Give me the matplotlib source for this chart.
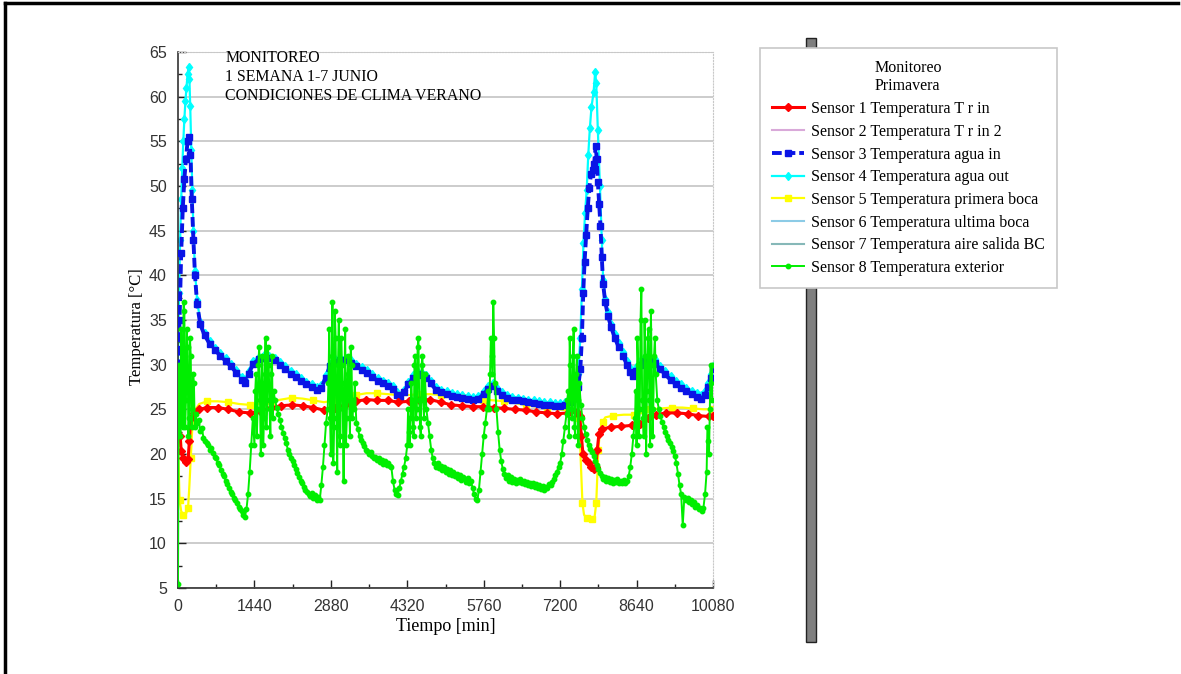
import numpy as np
import matplotlib
matplotlib.use("Agg")
import matplotlib.pyplot as plt
from matplotlib.lines import Line2D
from matplotlib.patches import Rectangle
from matplotlib.ticker import MultipleLocator

# Sensor 1 Temperatura T r in
red_t = [0, 40, 60, 100, 150, 190, 215, 240, 300, 400, 550, 750, 950, 1150, 1350, 1550,
         1750, 1950, 2150, 2350, 2550, 2750, 2950, 3150, 3350, 3550, 3750, 3950, 4150,
         4350, 4550, 4750, 4950, 5150, 5350, 5550, 5750, 5950, 6150, 6350, 6550, 6750,
         6950, 7150, 7350, 7520, 7570, 7600, 7630, 7680, 7740, 7790, 7840, 7870, 7900,
         7930, 7990, 8150, 8350, 8550, 8700, 8850, 9000, 9200, 9400, 9600, 9800, 10000, 10080]
red_v = [24.2, 22.0, 20.3, 19.6, 19.1, 19.4, 21.5, 24.0, 24.6, 25.0, 25.2, 25.2, 25.0, 24.7,
         24.6, 24.8, 25.2, 25.4, 25.5, 25.4, 25.2, 24.9, 25.1, 25.5, 25.9, 26.1, 26.0, 26.0,
         25.8, 25.9, 26.0, 26.1, 25.8, 25.5, 25.4, 25.3, 25.3, 25.2, 25.1, 25.0, 24.9, 24.7,
         24.6, 24.5, 24.6, 24.7, 24.2, 22.0, 20.0, 19.3, 19.0, 18.6, 18.3, 18.6, 20.5, 22.2,
         22.8, 23.0, 23.1, 23.2, 23.4, 24.0, 24.4, 24.6, 24.6, 24.5, 24.3, 24.2, 24.2]

# Sensor 3 Temperatura agua in
blue_t = [0, 30, 60, 90, 120, 150, 180, 210, 235, 260, 290, 320, 360, 420, 500, 600, 700,
          800, 900, 1000, 1100, 1200, 1260, 1330, 1420, 1520, 1620, 1720, 1820, 1920, 2020,
          2120, 2220, 2320, 2420, 2520, 2620, 2700, 2780, 2860, 2960, 3060, 3160, 3260, 3360,
          3460, 3560, 3660, 3760, 3860, 3960, 4060, 4130, 4190, 4260, 4340, 4430, 4520, 4600,
          4680, 4760, 4860, 4960, 5060, 5160, 5260, 5360, 5460, 5560, 5660, 5760, 5850, 5930,
          6010, 6100, 6200, 6300, 6400, 6500, 6600, 6700, 6800, 6900, 7000, 7100, 7200, 7300,
          7400, 7480, 7540, 7580, 7610, 7635, 7660, 7690, 7720, 7750, 7780, 7810, 7840, 7870,
          7890, 7910, 7935, 7960, 7985, 8010, 8050, 8100, 8160, 8230, 8300, 8380, 8460, 8520,
          8570, 8630, 8700, 8780, 8880, 8980, 9080, 9180, 9280, 9380, 9480, 9580, 9680, 9780,
          9860, 9930, 9990, 10040, 10080]
blue_v = [29.5, 35.0, 42.5, 47.5, 50.8, 53.0, 55.0, 55.5, 53.5, 48.5, 44.0, 40.0, 36.8, 34.5,
          33.3, 32.3, 31.6, 31.0, 30.4, 29.8, 29.1, 28.3, 28.0, 29.0, 30.1, 30.6, 30.8, 30.7,
          30.5, 30.0, 29.5, 29.0, 28.6, 28.2, 27.8, 27.5, 27.2, 27.4, 28.5, 29.8, 30.3, 30.5,
          30.5, 30.2, 29.8, 29.4, 29.1, 28.6, 28.2, 27.9, 27.6, 27.3, 26.6, 26.3, 26.9, 27.8,
          28.5, 28.9, 28.8, 28.5, 27.9, 27.2, 26.9, 26.7, 26.5, 26.4, 26.3, 26.2, 26.1, 26.2,
          26.7, 27.3, 27.6, 27.1, 26.6, 26.3, 26.1, 26.0, 25.9, 25.8, 25.7, 25.6, 25.5, 25.5,
          25.4, 25.4, 25.5, 25.8, 26.5, 27.5, 29.5, 33.0, 38.0, 41.5, 44.5, 47.5, 49.8, 51.3,
          51.8, 52.5, 54.5, 53.0, 50.5, 48.0, 45.5, 42.0, 39.0, 37.0, 35.5, 34.2, 33.0, 32.0,
          31.0, 30.0, 29.2, 28.7, 29.3, 30.0, 30.4, 30.5, 30.2, 29.5, 28.9, 28.3, 27.8, 27.4,
          27.0, 26.7, 26.4, 26.2, 26.6, 27.5, 28.5, 29.5]

# Sensor 4 Temperatura agua out
cyan_t = [0, 20, 40, 60, 80, 100, 120, 140, 160, 180, 200, 215, 230, 250, 270, 290, 320, 360,
          420, 500, 600, 700, 800, 900, 1000, 1100, 1200, 1260, 1330, 1420, 1520, 1620, 1720,
          1820, 1920, 2020, 2120, 2220, 2320, 2420, 2520, 2620, 2700, 2780, 2860, 2960, 3060,
          3160, 3260, 3360, 3460, 3560, 3660, 3760, 3860, 3960, 4060, 4130, 4190, 4260, 4340,
          4430, 4520, 4600, 4680, 4760, 4860, 4960, 5060, 5160, 5260, 5360, 5460, 5560, 5660,
          5760, 5850, 5930, 6010, 6100, 6200, 6300, 6400, 6500, 6600, 6700, 6800, 6900, 7000,
          7100, 7200, 7300, 7400, 7480, 7540, 7580, 7610, 7640, 7670, 7700, 7730, 7760, 7790,
          7830, 7860, 7880, 7910, 7950, 7985, 8010, 8050, 8100, 8160, 8230, 8300, 8380, 8460,
          8520, 8570, 8630, 8700, 8780, 8880, 8980, 9080, 9180, 9280, 9380, 9480, 9580, 9680,
          9780, 9860, 9930, 9990, 10040, 10080]
cyan_v = [30.0, 38.0, 44.0, 48.5, 52.0, 55.0, 57.5, 59.5, 61.0, 62.5, 63.3, 62.0, 59.0, 54.0,
          49.5, 45.0, 40.5, 37.2, 34.8, 33.6, 32.6, 31.9, 31.3, 30.7, 30.1, 29.4, 28.6, 28.3,
          29.3, 30.4, 30.9, 31.1, 31.0, 30.8, 30.3, 29.8, 29.3, 28.9, 28.5, 28.1, 27.8, 27.5,
          27.7, 28.8, 30.1, 30.6, 30.8, 30.8, 30.5, 30.1, 29.7, 29.4, 28.9, 28.5, 28.2, 27.9,
          27.6, 26.9, 26.6, 27.2, 28.1, 28.8, 29.2, 29.1, 28.8, 28.2, 27.5, 27.2, 27.0, 26.8,
          26.7, 26.6, 26.5, 26.4, 26.5, 27.0, 27.6, 27.9, 27.4, 26.9, 26.6, 26.4, 26.3, 26.2,
          26.1, 26.0, 25.9, 25.8, 25.8, 25.7, 25.7, 25.8, 26.1, 27.0, 29.0, 33.0, 38.5, 43.6,
          47.0, 49.5, 53.5, 56.5, 58.8, 60.5, 62.8, 61.5, 56.3, 50.0, 44.0, 39.5, 37.4, 35.9,
          34.6, 33.4, 32.4, 31.4, 30.4, 29.6, 29.1, 29.7, 30.4, 30.8, 30.9, 30.6, 29.9, 29.3,
          28.7, 28.2, 27.8, 27.4, 27.1, 26.8, 26.6, 27.0, 27.9, 28.9, 29.9]

# Sensor 5 Temperatura primera boca
yellow_t = [0, 15, 30, 60, 100, 150, 190, 215, 240, 270, 310, 400, 550, 750, 950, 1150, 1350,
            1550, 1750, 1950, 2150, 2350, 2550, 2750, 2950, 3150, 3350, 3550, 3750, 3950,
            4150, 4350, 4550, 4750, 4950, 5150, 5350, 5550, 5750, 5950, 6150, 6350, 6550,
            6750, 6950, 7150, 7350, 7520, 7560, 7590, 7620, 7650, 7700, 7750, 7800, 7850,
            7880, 7900, 7920, 7950, 8000, 8050, 8200, 8400, 8600, 8750, 8900, 9100, 9300,
            9500, 9700, 9900, 10080]
yellow_v = [21.2, 18.0, 14.8, 13.6, 13.2, 13.3, 14.0, 16.5, 19.5, 23.0, 24.8, 25.6, 25.9,
            25.9, 25.8, 25.6, 25.5, 25.6, 25.9, 26.1, 26.3, 26.2, 26.0, 25.8, 26.0, 26.3,
            26.6, 26.8, 26.8, 26.7, 26.6, 26.6, 26.7, 26.7, 26.6, 26.4, 26.3, 26.2, 26.1,
            26.0, 25.9, 25.7, 25.5, 25.3, 25.2, 25.0, 24.9, 24.8, 24.0, 19.0, 14.5, 13.2,
            12.8, 12.6, 12.7, 13.0, 14.5, 17.5, 20.5, 22.6, 23.6, 24.1, 24.3, 24.4, 24.4,
            24.6, 25.0, 25.1, 25.2, 25.2, 25.1, 25.0, 25.0]

# Sensor 8 Temperatura exterior, one reading every 30 min
green_t = np.arange(0, 10081, 30)
green_v = [
    5.5, 27, 34, 23, 36, 26, 32, 24, 31, 25, 28, 24.5,
    23.5, 23.8, 22.6, 22.9, 21.8, 21.5, 21.2, 21.0, 20.4, 20.7, 20.1, 19.7,
    19.5, 19.0, 18.8, 18.2, 17.8, 17.5, 17.0, 16.6, 16.2, 15.8, 15.5, 15.1,
    14.8, 14.5, 14.1, 13.8, 13.6, 13.2, 13.0, 13.8, 15.5, 18.0, 21.0, 24.0,
    21, 29, 25, 32, 20, 31, 24, 33, 26, 30, 22, 31,
    27, 26, 25.2, 24.5, 23.8, 23, 22.4, 21.8, 21.2, 20.5, 20.0, 19.5,
    19.2, 18.8, 18.3, 17.9, 17.4, 17.0, 16.7, 16.3, 16.0, 15.8, 15.5, 15.3,
    15.6, 15.1, 15.4, 14.9, 15.2, 14.8, 16.5, 18.5, 21, 23.5, 25, 34,
    20, 37, 23, 33, 18, 35, 22, 30, 17, 34, 24, 31,
    22, 30, 26, 28, 23.5, 22.8, 22, 21.6, 21.2, 20.9, 20.5, 20.3,
    20.0, 20.2, 19.8, 19.5, 19.7, 19.3, 19.5, 19.1, 19.3, 18.9, 19.2, 18.8,
    19.0, 18.7, 18.5, 17.0, 16.0, 15.5, 15.4, 16.2, 17.0, 17.8, 18.6, 19.5,
    21, 22.5, 24, 26, 22, 31, 25, 33, 23, 30, 26, 29,
    25, 23.5, 22, 20.5, 19.5, 19.0, 18.6, 19.0, 18.4, 18.7, 18.2, 18.5,
    18.0, 18.3, 17.8, 18.2, 17.7, 18.0, 17.5, 17.8, 17.3, 17.6, 17.1, 17.4,
    17.2, 16.9, 17.3, 16.8, 17.0, 16.2, 15.5, 15.0, 14.8, 16.0, 18.0, 20.0,
    22, 23.5, 25, 27, 29, 31, 37, 28, 25, 22.5, 20.5, 19.2,
    18.3, 17.8, 17.3, 17.6, 17.0, 17.4, 16.9, 17.2, 16.8, 17.1, 16.9, 17.2,
    16.8, 17.0, 16.6, 16.9, 16.5, 16.8, 16.4, 16.7, 16.3, 16.6, 16.2, 16.5,
    16.1, 16.4, 16.0, 16.3, 16.2, 16.6, 16.5, 16.9, 17.2, 17.6, 18.0, 18.6,
    19.0, 20.0, 21.5, 23.0, 24.5, 27, 33, 25, 31, 23, 29, 26,
    28, 25.5, 24, 23, 22.2, 21.6, 21, 20.6, 20.2, 19.8, 19.2, 18.8,
    18.3, 17.9, 17.5, 17.2, 17.4, 17.0, 17.3, 16.9, 17.2, 16.8, 17.1, 16.9,
    17.2, 16.8, 17.0, 16.7, 17.1, 16.8, 17.0, 17.5, 18.5, 20, 22, 24,
    21, 30, 25, 38.5, 24, 35, 20, 33, 26, 36, 22, 31,
    29, 26, 25, 24.2, 23.6, 23, 22.5, 22, 21.6, 21.2, 20.8, 20.3,
    19.8, 19, 17.8, 16.5, 15.5, 12.0, 15.2, 14.8, 15.1, 14.6, 14.9, 14.4,
    14.6, 14.1, 14.3, 13.8, 14.0, 13.6, 14.0, 15.5, 18, 21.5, 25, 28,
    30,
]
# extra exterior readings in between, during the noisy daytime windows
green_extra_t = [15, 45, 75, 105, 135, 165, 195, 225, 255, 285, 315,
                 1455, 1485, 1515, 1545, 1575, 1605, 1635, 1665, 1695, 1725, 1755, 1785,
                 2835, 2865, 2895, 2925, 2955, 2985, 3015, 3045, 3075, 3105, 3135, 3165,
                 3195, 3225, 3255, 3285, 3315,
                 4335, 4365, 4395, 4425, 4455, 4485, 4515, 4545, 4575, 4605, 4635,
                 5865, 5895, 5925, 5955,
                 7335, 7365, 7395, 7425, 7455, 7485, 7515, 7545,
                 8625, 8655, 8685, 8715, 8745, 8775, 8805, 8835, 8865, 8895, 8925, 8955, 8985,
                 9975, 10005, 10035, 10065]
green_extra_v = [30, 22, 29, 37, 23, 34, 22, 33, 23, 29, 23,
                 27, 22, 30, 26, 28, 21, 29, 23, 32, 25, 29, 24,
                 28, 24, 31, 19, 36, 24, 30, 21, 33, 25, 28, 21,
                 29, 26, 32, 24, 25,
                 25, 21, 28, 23, 30, 24, 32, 26, 22, 31, 24,
                 25, 33, 29, 33,
                 26, 22, 30, 24, 34, 22, 31, 21,
                 27, 33, 22, 35, 26, 22, 31, 27, 34, 21, 30, 25, 33,
                 23, 20, 30, 26]

legend_title = "Monitoreo\nPrimavera"
labels = ["Sensor 1 Temperatura T r in", "Sensor 2 Temperatura T r in 2",
          "Sensor 3 Temperatura agua in", "Sensor 4 Temperatura agua out",
          "Sensor 5 Temperatura primera boca", "Sensor 6 Temperatura ultima boca",
          "Sensor 7 Temperatura aire salida BC", "Sensor 8 Temperatura exterior"]
note = "MONITOREO\n1 SEMANA 1-7 JUNIO\nCONDICIONES DE CLIMA VERANO"

serif = ["Liberation Serif", "DejaVu Serif"]
sans = ["Liberation Sans", "DejaVu Sans"]

# merge the two sets of exterior readings in time order
gt = np.concatenate([green_t, green_extra_t])
gv = np.concatenate([green_v, green_extra_v])
order = np.argsort(gt, kind="stable")
gt, gv = gt[order], gv[order]

fig = plt.figure(figsize=(11.81, 6.74), dpi=100)
ax = fig.add_axes([178 / 1181, 1 - 588 / 674, 535 / 1181, 536 / 674])

# gray bar behind the legend
fig.add_artist(Rectangle((806 / 1181, 1 - 642 / 674), 10 / 1181, 604 / 674,
                         transform=fig.transFigure, facecolor="#7f7f7f",
                         edgecolor="#222222", lw=1, zorder=0))
# black border of the original frame
fig.add_artist(Line2D([5 / 1181, 1178 / 1181], [1 - 3 / 674, 1 - 3 / 674],
                      transform=fig.transFigure, color="black", lw=2.5))
fig.add_artist(Line2D([5 / 1181, 5 / 1181], [0, 1 - 3 / 674],
                      transform=fig.transFigure, color="black", lw=2.5))

h1, = ax.plot(red_t, red_v, color="#ff0000", lw=2.2, marker="D", ms=4.2, zorder=4)
h2, = ax.plot([], [], color="#d9a9d9", lw=1.5)
hc, = ax.plot(cyan_t, cyan_v, color="#00ffff", lw=1.6, marker="d", ms=4.5, zorder=2)
hb, = ax.plot(blue_t, blue_v, color="#0a14e6", lw=2.8, ls=(0, (2.5, 1)), marker="s",
              ms=5, zorder=3)
hy, = ax.plot(yellow_t, yellow_v, color="#ffff00", lw=1.6, marker="s", ms=4,
              markevery=2, zorder=2)
h6, = ax.plot([], [], color="#8ccbe6", lw=1.5)
h7, = ax.plot([], [], color="#86b8b8", lw=1.5)
hg, = ax.plot(gt, gv, color="#00ee00", lw=1.4, marker="o", ms=3.2, zorder=5)

ax.set_xlim(0, 10080)
ax.set_ylim(5, 65)
ax.xaxis.set_major_locator(MultipleLocator(1440))
ax.xaxis.set_minor_locator(MultipleLocator(720))
ax.yaxis.set_major_locator(MultipleLocator(5))
ax.yaxis.set_minor_locator(MultipleLocator(2.5))
ax.tick_params(which="both", direction="in", top=False, right=False, colors="#222222",
               labelcolor="#333333", labelsize=11.5)
ax.tick_params(which="major", length=6, width=1)
ax.tick_params(which="minor", length=3, width=1)
ax.tick_params(axis="y", which="major", pad=8)
ax.tick_params(axis="x", which="major", pad=8)
for lab in ax.get_xticklabels() + ax.get_yticklabels():
    lab.set_family(sans)
ax.grid(axis="y", color="#c8c8c8", lw=1.3)
ax.set_axisbelow(True)
for s in ["top", "right"]:
    ax.spines[s].set_color("#c8c8c8")
    ax.spines[s].set_linestyle(":")
for s in ["left", "bottom"]:
    ax.spines[s].set_color("#333333")
    ax.spines[s].set_linewidth(1.2)

ax.set_xlabel("Tiempo [min]", family=serif, fontsize=13)
ax.set_ylabel("Temperatura [°C]", family=serif, fontsize=12)
ax.xaxis.set_label_coords(0.5, -0.056)
ax.yaxis.set_label_coords(-0.062, 0.488)
ax.text(0.088, 1.003, note, transform=ax.transAxes, va="top", ha="left",
        family=serif, fontsize=11.4, linespacing=1.25)

leg = fig.legend([h1, h2, hb, hc, hy, h6, h7, hg], labels, title=legend_title,
                 loc="upper left", bbox_to_anchor=(760 / 1181, 1 - 48 / 674),
                 borderaxespad=0, prop={"family": serif, "size": 11.5}, frameon=True,
                 fancybox=False, edgecolor="#c8c8c8", framealpha=1, handlelength=2.0,
                 handletextpad=0.45, labelspacing=0.42, borderpad=0.75)
leg.get_title().set_family(serif)
leg.get_title().set_fontsize(11.5)
leg.get_frame().set_linewidth(1.2)
leg.set_zorder(5)

fig.savefig("out.png", dpi=100)
